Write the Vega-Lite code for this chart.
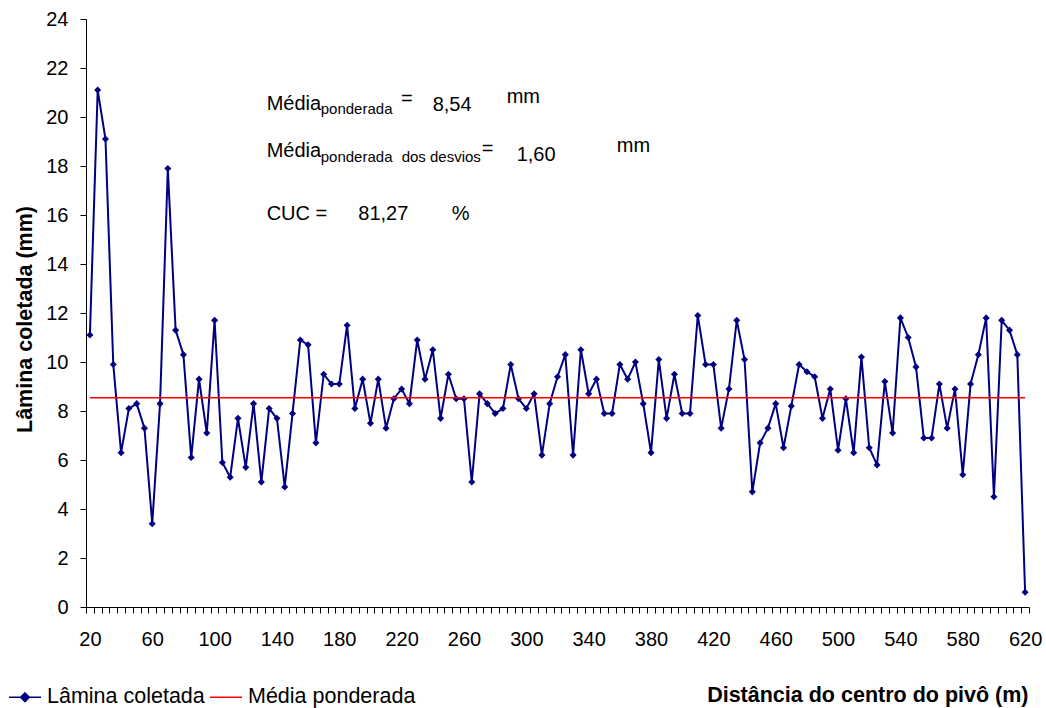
{
  "$schema": "https://vega.github.io/schema/vega-lite/v6.json",
  "width": 943,
  "height": 588,
  "autosize": "none",
  "padding": {"left": 86, "top": 19, "right": 17, "bottom": 101},
  "background": "white",
  "config": {
    "font": "Liberation Sans",
    "view": {"stroke": null},
    "axis": {"grid": false}
  },
  "resolve": {"axis": {"x": "independent"}},
  "datasets": {
    "lamina": [
      {"d": 20, "v": 11.1}, {"d": 25, "v": 21.1}, {"d": 30, "v": 19.1}, {"d": 35, "v": 9.9}, {"d": 40, "v": 6.3},
      {"d": 45, "v": 8.1}, {"d": 50, "v": 8.3}, {"d": 55, "v": 7.3}, {"d": 60, "v": 3.4}, {"d": 65, "v": 8.3},
      {"d": 70, "v": 17.9}, {"d": 75, "v": 11.3}, {"d": 80, "v": 10.3}, {"d": 85, "v": 6.1}, {"d": 90, "v": 9.3},
      {"d": 95, "v": 7.1}, {"d": 100, "v": 11.7}, {"d": 105, "v": 5.9}, {"d": 110, "v": 5.3}, {"d": 115, "v": 7.7},
      {"d": 120, "v": 5.7}, {"d": 125, "v": 8.3}, {"d": 130, "v": 5.1}, {"d": 135, "v": 8.1}, {"d": 140, "v": 7.7},
      {"d": 145, "v": 4.9}, {"d": 150, "v": 7.9}, {"d": 155, "v": 10.9}, {"d": 160, "v": 10.7}, {"d": 165, "v": 6.7},
      {"d": 170, "v": 9.5}, {"d": 175, "v": 9.1}, {"d": 180, "v": 9.1}, {"d": 185, "v": 11.5}, {"d": 190, "v": 8.1},
      {"d": 195, "v": 9.3}, {"d": 200, "v": 7.5}, {"d": 205, "v": 9.3}, {"d": 210, "v": 7.3}, {"d": 215, "v": 8.5},
      {"d": 220, "v": 8.9}, {"d": 225, "v": 8.3}, {"d": 230, "v": 10.9}, {"d": 235, "v": 9.3}, {"d": 240, "v": 10.5},
      {"d": 245, "v": 7.7}, {"d": 250, "v": 9.5}, {"d": 255, "v": 8.5}, {"d": 260, "v": 8.5}, {"d": 265, "v": 5.1},
      {"d": 270, "v": 8.7}, {"d": 275, "v": 8.3}, {"d": 280, "v": 7.9}, {"d": 285, "v": 8.1}, {"d": 290, "v": 9.9},
      {"d": 295, "v": 8.5}, {"d": 300, "v": 8.1}, {"d": 305, "v": 8.7}, {"d": 310, "v": 6.2}, {"d": 315, "v": 8.3},
      {"d": 320, "v": 9.4}, {"d": 325, "v": 10.3}, {"d": 330, "v": 6.2}, {"d": 335, "v": 10.5}, {"d": 340, "v": 8.7},
      {"d": 345, "v": 9.3}, {"d": 350, "v": 7.9}, {"d": 355, "v": 7.9}, {"d": 360, "v": 9.9}, {"d": 365, "v": 9.3},
      {"d": 370, "v": 10.0}, {"d": 375, "v": 8.3}, {"d": 380, "v": 6.3}, {"d": 385, "v": 10.1}, {"d": 390, "v": 7.7},
      {"d": 395, "v": 9.5}, {"d": 400, "v": 7.9}, {"d": 405, "v": 7.9}, {"d": 410, "v": 11.9}, {"d": 415, "v": 9.9},
      {"d": 420, "v": 9.9}, {"d": 425, "v": 7.3}, {"d": 430, "v": 8.9}, {"d": 435, "v": 11.7}, {"d": 440, "v": 10.1},
      {"d": 445, "v": 4.7}, {"d": 450, "v": 6.7}, {"d": 455, "v": 7.3}, {"d": 460, "v": 8.3}, {"d": 465, "v": 6.5},
      {"d": 470, "v": 8.2}, {"d": 475, "v": 9.9}, {"d": 480, "v": 9.6}, {"d": 485, "v": 9.4}, {"d": 490, "v": 7.7},
      {"d": 495, "v": 8.9}, {"d": 500, "v": 6.4}, {"d": 505, "v": 8.5}, {"d": 510, "v": 6.3}, {"d": 515, "v": 10.2},
      {"d": 520, "v": 6.5}, {"d": 525, "v": 5.8}, {"d": 530, "v": 9.2}, {"d": 535, "v": 7.1}, {"d": 540, "v": 11.8},
      {"d": 545, "v": 11.0}, {"d": 550, "v": 9.8}, {"d": 555, "v": 6.9}, {"d": 560, "v": 6.9}, {"d": 565, "v": 9.1},
      {"d": 570, "v": 7.3}, {"d": 575, "v": 8.9}, {"d": 580, "v": 5.4}, {"d": 585, "v": 9.1}, {"d": 590, "v": 10.3},
      {"d": 595, "v": 11.8}, {"d": 600, "v": 4.5}, {"d": 605, "v": 11.7}, {"d": 610, "v": 11.3}, {"d": 615, "v": 10.3},
      {"d": 620, "v": 0.6}
    ],
    "media": [{"x": 20, "x2": 620, "y": 8.54}],
    "textos": [
      {"x": 133.4, "y": 20.29, "t": "Média"},
      {"x": 219.6, "y": 20.49, "t": "="},
      {"x": 239.9, "y": 20.26, "t": "8,54"},
      {"x": 287.4, "y": 20.56, "t": "mm"},
      {"x": 133.4, "y": 18.36, "t": "Média"},
      {"x": 271.4, "y": 18.44, "t": "="},
      {"x": 293.8, "y": 18.22, "t": "1,60"},
      {"x": 358.0, "y": 18.58, "t": "mm"},
      {"x": 133.4, "y": 15.78, "t": "CUC ="},
      {"x": 192.2, "y": 15.78, "t": "81,27"},
      {"x": 252.1, "y": 15.78, "t": "%"}
    ],
    "subscritos": [
      {"x": 168.1, "y": 20.12, "t": "ponderada"},
      {"x": 168.1, "y": 18.18, "t": "ponderada"},
      {"x": 220.0, "y": 18.18, "t": "dos desvios"}
    ]
  },
  "layer": [
    {
      "data": {"name": "lamina"},
      "mark": {"type": "line", "strokeWidth": 2},
      "encoding": {
        "x": {
          "field": "d", "type": "quantitative",
          "scale": {"domain": [17.5, 622.5], "nice": false, "zero": false},
          "axis": {
            "orient": "bottom",
            "values": [20,60,100,140,180,220,260,300,340,380,420,460,500,540,580,620],
            "format": "d",
            "labelOverlap": false,
            "labelBound": false,
            "labelFlush": false,
            "labelFontSize": 20,
            "labelColor": "#000000",
            "labelPadding": 22,
            "ticks": false,
            "tickSize": 6,
            "domainColor": "#000000",
            "domainWidth": 1,
            "title": "Distância do centro do pivô (m)",
            "titleFontSize": 21.5,
            "titleFontWeight": "bold",
            "titleColor": "#000000",
            "titleAnchor": "end",
            "titleAlign": "right",
            "titleBaseline": "alphabetic",
            "titleX": 942,
            "titleY": 94
          }
        },
        "y": {
          "field": "v", "type": "quantitative",
          "scale": {"domain": [0, 24], "nice": false},
          "axis": {
            "values": [0,2,4,6,8,10,12,14,16,18,20,22,24],
            "labelFontSize": 20,
            "labelColor": "#000000",
            "labelPadding": 12,
            "ticks": true,
            "tickSize": 6,
            "tickWidth": 1,
            "tickColor": "#000000",
            "domainColor": "#000000",
            "title": "Lâmina coletada (mm)",
            "titleFontSize": 21.5,
            "titleFontWeight": "bold",
            "titleColor": "#000000",
            "titleAngle": -90,
            "titleAlign": "center",
            "titleBaseline": "alphabetic",
            "titleX": -55,
            "titleY": 300
          }
        },
        "color": {
          "datum": "Lâmina coletada", "type": "nominal",
          "scale": {"domain": ["Lâmina coletada", "Média ponderada"], "range": ["#000080", "#FF0000"]},
          "legend": {
            "orient": "none",
            "legendX": -78,
            "legendY": 661,
            "direction": "horizontal",
            "title": null,
            "padding": 0,
            "labelFontSize": 21.5,
            "labelLimit": 400,
            "labelColor": "#000000",
            "labelOffset": 5,
            "columnPadding": 2,
            "symbolSize": 1024,
            "symbolStrokeWidth": 1.5,
            "symbolType": "stroke",
            "encode": {
              "symbols": {
                "update": {
                  "shape": {"signal": "datum.value === 'Lâmina coletada' ? 'M-1,0L1,0M0,-0.27L0.27,0L0,0.27L-0.27,0Z' : 'M-1,0L1,0'"},
                  "fill": {"signal": "datum.value === 'Lâmina coletada' ? '#000080' : 'transparent'"},
                  "fillOpacity": {"value": 1}
                }
              }
            }
          }
        }
      }
    },
    {
      "data": {"name": "lamina"},
      "mark": {"type": "point", "shape": "diamond", "filled": true, "size": 50, "color": "#000080", "opacity": 1},
      "encoding": {
        "x": {
          "field": "d", "type": "quantitative",
          "axis": {
            "orient": "bottom",
            "offset": 0,
            "values": [17.5,22.5,27.5,32.5,37.5,42.5,47.5,52.5,57.5,62.5,67.5,72.5,77.5,82.5,87.5,92.5,97.5,102.5,107.5,112.5,117.5,122.5,127.5,132.5,137.5,142.5,147.5,152.5,157.5,162.5,167.5,172.5,177.5,182.5,187.5,192.5,197.5,202.5,207.5,212.5,217.5,222.5,227.5,232.5,237.5,242.5,247.5,252.5,257.5,262.5,267.5,272.5,277.5,282.5,287.5,292.5,297.5,302.5,307.5,312.5,317.5,322.5,327.5,332.5,337.5,342.5,347.5,352.5,357.5,362.5,367.5,372.5,377.5,382.5,387.5,392.5,397.5,402.5,407.5,412.5,417.5,422.5,427.5,432.5,437.5,442.5,447.5,452.5,457.5,462.5,467.5,472.5,477.5,482.5,487.5,492.5,497.5,502.5,507.5,512.5,517.5,522.5,527.5,532.5,537.5,542.5,547.5,552.5,557.5,562.5,567.5,572.5,577.5,582.5,587.5,592.5,597.5,602.5,607.5,612.5,617.5,622.5],
            "labels": false,
            "ticks": true,
            "tickSize": 6,
            "tickWidth": 1,
            "tickColor": "#000000",
            "domain": false,
            "title": null
          }
        },
        "y": {"field": "v", "type": "quantitative"}
      }
    },
    {
      "data": {"name": "media"},
      "mark": {"type": "rule", "strokeWidth": 1.5},
      "encoding": {
        "x": {"field": "x", "type": "quantitative", "axis": null},
        "x2": {"field": "x2"},
        "y": {"field": "y", "type": "quantitative"},
        "color": {"datum": "Média ponderada", "type": "nominal"}
      }
    },
    {
      "data": {"name": "textos"},
      "mark": {"type": "text", "fontSize": 20, "align": "left", "baseline": "alphabetic", "color": "#000000"},
      "encoding": {
        "x": {"field": "x", "type": "quantitative", "axis": null},
        "y": {"field": "y", "type": "quantitative"},
        "text": {"field": "t"}
      }
    },
    {
      "data": {"name": "subscritos"},
      "mark": {"type": "text", "fontSize": 15, "align": "left", "baseline": "alphabetic", "color": "#000000"},
      "encoding": {
        "x": {"field": "x", "type": "quantitative", "axis": null},
        "y": {"field": "y", "type": "quantitative"},
        "text": {"field": "t"}
      }
    }
  ]
}
